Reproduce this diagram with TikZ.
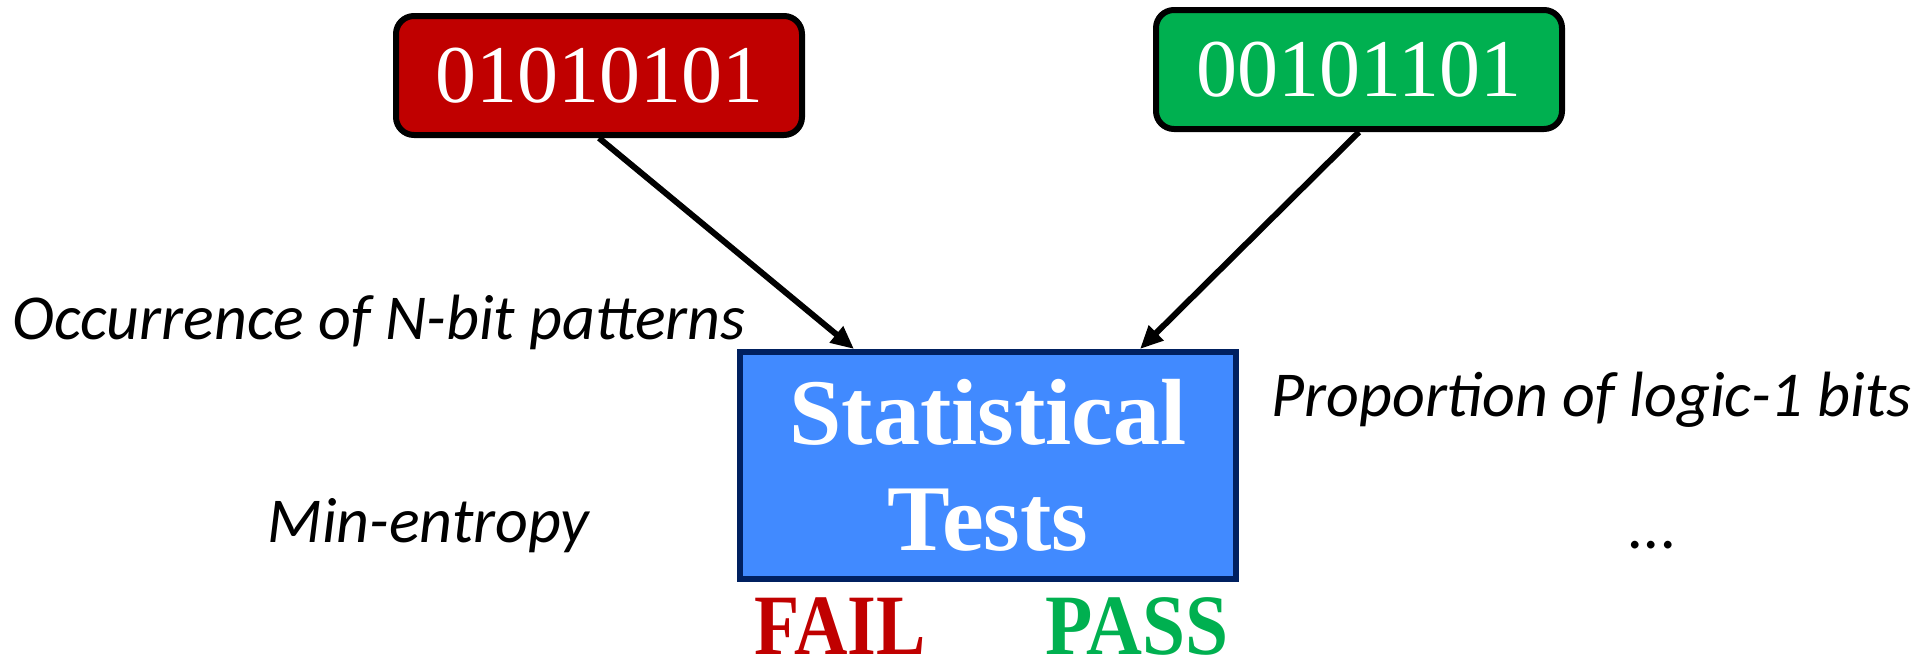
\documentclass[tikz,border=0pt]{standalone}
\usepackage{fontspec}
\usepackage{graphicx}
\setmainfont{Liberation Serif}
\newfontfamily\labelfont{Carlito}
\usetikzlibrary{arrows.meta}
\definecolor{failred}{HTML}{C00000}
\definecolor{passgreen}{HTML}{00B050}
\definecolor{testblue}{HTML}{418AFF}
\definecolor{testnavy}{HTML}{002060}
\tikzset{
  bitbox/.style={draw=black, line width=3pt, rounded corners=9pt,
    minimum width=203pt, minimum height=59.5pt, inner sep=0pt,
    text=white, font=\fontsize{41}{41}\selectfont},
  testbox/.style={draw=testnavy, line width=3pt, fill=testblue,
    minimum width=248pt, minimum height=113.5pt, inner sep=0pt,
    text=white, align=center, font=\bfseries\fontsize{47}{53}\selectfont},
  testlabel/.style={inner sep=0pt, font=\labelfont\itshape\fontsize{32}{32}\selectfont},
  verdict/.style={inner sep=0pt, font=\bfseries\fontsize{43}{43}\selectfont},
  feed/.style={line width=3pt, -{Triangle[length=11.5pt,width=10pt]}}
}
\begin{document}
\begin{tikzpicture}[x=0.5pt,y=-0.5pt]
  \useasboundingbox (0,0) rectangle (1917,671);

  % input bit streams
  \node[bitbox, fill=failred]   (bad)  at (599,75.5) {01010101};
  \node[bitbox, fill=passgreen] (good) at (1359,69.5) {00101101};

  % test block
  \node[testbox] (tests) at (988,465.5) {Statistical\\Tests};

  % where the streams enter the test block
  \coordinate (inL) at (854,349);
  \coordinate (inR) at (1140,349);
  \draw[feed] (bad.south)  -- (inL);
  \draw[feed] (good.south) -- (inR);

  % outcomes
  \node[verdict, text=failred, anchor=base] (fail) at (840,654) {\scalebox{0.86}[1]{FAIL}};
  \node[verdict, text=passgreen, anchor=base] (pass) at (1137,654) {\scalebox{0.9}[1]{PASS}};

  % examples of tests
  \node[testlabel, anchor=base west] (occ)  at (12,339)   {Occurrence of N-bit patterns};
  \node[testlabel, anchor=base west] (minh) at (267,542)  {Min-entropy};
  \node[testlabel, anchor=base west] (prop) at (1271,416) {Proportion of logic-1 bits};
  \node[testlabel, anchor=base] (more) at (1653,548) {...};
\end{tikzpicture}
\end{document}
